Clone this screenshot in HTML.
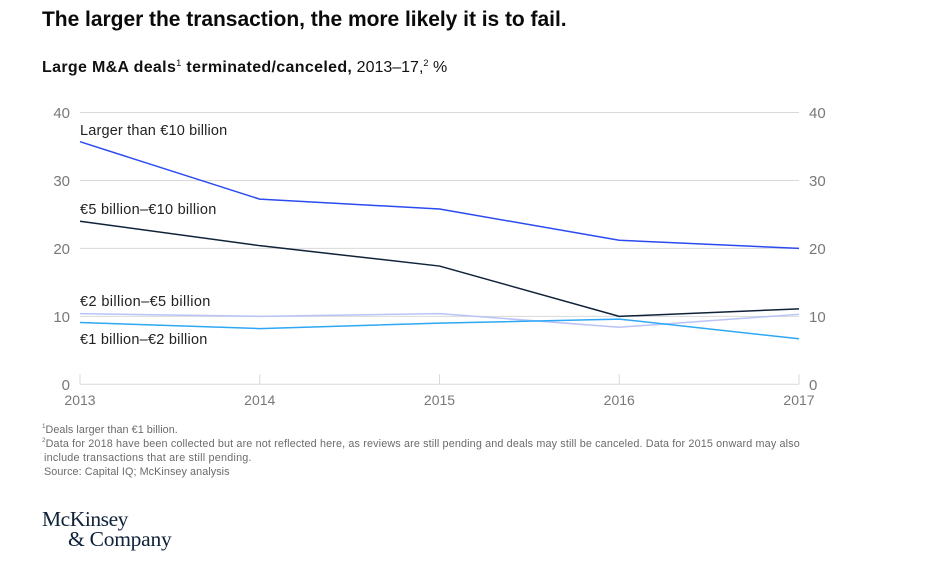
<!DOCTYPE html>
<html lang="en">
<head>
<meta charset="utf-8">
<title>Large M&amp;A deals terminated/canceled</title>
<style>
html,body{margin:0;padding:0;background:#fff;}
body{width:941px;height:566px;position:relative;overflow:hidden;font-family:"Liberation Sans",sans-serif;}
.t{position:absolute;white-space:nowrap;}
sup{font-size:58%;line-height:0;vertical-align:baseline;position:relative;top:-0.65em;font-weight:400;}
#title{left:42px;top:8px;font-size:21px;line-height:24px;font-weight:700;color:#0a0a0a;letter-spacing:-.03px;}
#subtitle{left:42px;top:58px;font-size:16px;line-height:20px;color:#111;letter-spacing:0;}
#subtitle b{letter-spacing:.33px;}
.fn{left:42px;font-size:10.8px;line-height:14px;color:#6b6b6b;letter-spacing:.15px;}
.logo{font-family:"Liberation Serif",serif;font-size:21.5px;line-height:24px;color:#0f2238;letter-spacing:-.45px;}
svg{position:absolute;left:0;top:0;}
svg text{font-family:"Liberation Sans",sans-serif;}
</style>
</head>
<body>
<div class="t" id="title">The larger the transaction, the more likely it is to fail.</div>
<div class="t" id="subtitle"><b>Large M&amp;A deals<sup>1</sup> terminated/canceled,</b> 2013–17,<sup>2</sup> %</div>

<svg id="chart" width="941" height="566" viewBox="0 0 941 566"></svg>

<div class="t fn" style="top:422.5px;letter-spacing:.05px"><sup>1</sup>Deals larger than €1 billion.</div>
<div class="t fn" style="top:436.5px;letter-spacing:.14px"><sup>2</sup>Data for 2018 have been collected but are not reflected here, as reviews are still pending and deals may still be canceled. Data for 2015 onward may also</div>
<div class="t fn" style="top:450.5px;left:44px;letter-spacing:.22px">include transactions that are still pending.</div>
<div class="t fn" style="top:465px;left:44px;letter-spacing:.07px">Source: Capital IQ; McKinsey analysis</div>
<div class="t logo" style="left:42px;top:507px">McKinsey</div>
<div class="t logo" style="left:68px;top:527px;letter-spacing:-.25px">&amp; Company</div>

<script>
const years = ['2013', '2014', '2015', '2016', '2017'];
const yTicks = [0, 10, 20, 30, 40];
const seriesOver10 = [35.7, 27.25, 25.8, 21.2, 20];
const series5to10 = [24, 20.4, 17.4, 10, 11.1];
const series2to5 = [10.4, 10, 10.4, 8.4, 10.3];
const series1to2 = [9.1, 8.2, 9, 9.6, 6.7];

const NS = 'http://www.w3.org/2000/svg';
const chart = document.getElementById('chart');
const X0 = 80, X1 = 799, Y0 = 384.3, Y40 = 112.5;
function xAt(i) { return X0 + (X1 - X0) * i / (years.length - 1); }
function yAt(v) { return Y0 - (Y0 - Y40) * v / 40; }
function make(tag, attrs, text) {
  const el = document.createElementNS(NS, tag);
  for (const k in attrs) el.setAttribute(k, attrs[k]);
  if (text !== undefined) el.textContent = text;
  chart.appendChild(el);
  return el;
}

yTicks.forEach(function (v) {
  const grid = make('line', { x1: X0, x2: X1, y1: yAt(v), y2: yAt(v), stroke: '#d9d9d9', 'stroke-width': 1 });
  
  
  const left = make('text', { x: 70, y: yAt(v) + 5.5, 'text-anchor': 'end', 'font-size': 15, fill: '#787878' }, String(v));
  
  
  const right = make('text', { x: 809, y: yAt(v) + 5.5, 'font-size': 15, fill: '#787878' }, String(v));
  
  
});

years.forEach(function (year, i) {
  const tick = make('line', { x1: xAt(i), x2: xAt(i), y1: Y0 - 10, y2: Y0, stroke: '#d9d9d9', 'stroke-width': 1 });
  
  
  const label = make('text', { x: xAt(i), y: 405, 'text-anchor': 'middle', 'font-size': 14, fill: '#787878' }, year);
  
  
});

function drawSeries(values, color, name) {
  const pts = values.map(function (v, i) { return xAt(i) + ',' + yAt(v); }).join(' ');
  const line = make('polyline', { points: pts, fill: 'none', stroke: color, 'stroke-width': 1.5, 'stroke-linejoin': 'round' });
  
  
}
drawSeries(series2to5, '#b9c3f7', 'line-2-to-5-billion');
drawSeries(series1to2, '#2ea8f5', 'line-1-to-2-billion');
drawSeries(series5to10, '#0f2238', 'line-5-to-10-billion');
drawSeries(seriesOver10, '#2b4bf0', 'line-larger-than-10-billion');

const l1 = make('text', { x: 80, y: 135, 'font-size': 14.5, fill: '#222', 'letter-spacing': '.17' }, 'Larger than €10 billion');


const l2 = make('text', { x: 80, y: 214, 'font-size': 14.5, fill: '#222', 'letter-spacing': '.27' }, '€5 billion–€10 billion');


const l3 = make('text', { x: 80, y: 306, 'font-size': 14.5, fill: '#222', 'letter-spacing': '.39' }, '€2 billion–€5 billion');


const l4 = make('text', { x: 80, y: 344, 'font-size': 14.5, fill: '#222', 'letter-spacing': '.24' }, '€1 billion–€2 billion');


</script>
</body>
</html>
